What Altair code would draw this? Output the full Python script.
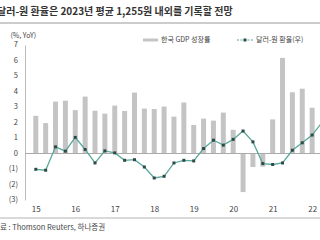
import altair as alt
import pandas as pd

quarters = [f"{y}Q{q}" for y in range(2015, 2023) for q in range(1, 5)][:30]
gdp = [2.43, 1.96, 3.35, 3.41, 2.80, 3.67, 2.76, 2.57, 3.09, 2.74, 3.93, 2.90, 2.87,
       3.03, 2.38, 3.29, 1.84, 2.25, 2.12, 2.64, 1.53, -2.49, -0.87, -0.85, 2.20,
       6.17, 3.95, 4.18, 2.95]
fx = [-1.02, -1.08, 0.43, 0.15, 1.04, 0.26, -0.61, 0.17, 0.04, -0.44, -0.40, -0.87,
      -1.58, -1.47, -0.61, -0.44, -0.48, 0.32, 0.86, 0.54, 0.91, 1.45, 0.75, -0.65,
      -0.71, -0.61, 0.21, 0.69, 1.19, 2.0]
year_labels = ["15", "16", "17", "18", "19", "20", "21", "22"]
y_ticks = [-3, -2, -1, 0, 1, 2, 3, 4, 5, 6, 7]
y_tick_labels = ["(3)", "(2)", "(1)", "0", "1", "2", "3", "4", "5", "6", "7"]

title_text = "달러-원 환율은 2023년 평균 1,255원 내외를 기록할 전망"
source_text = "자료 : Thomson Reuters, 하나증권"
legend_gdp = "한국 GDP 성장률"
legend_fx = "달러-원 환율(우)"

FONT = "Noto Sans CJK KR"

bars_df = pd.DataFrame({"i": range(len(gdp)), "q": quarters[:len(gdp)], "gdp": gdp})
line_df = pd.DataFrame({"i": range(len(fx)), "q": quarters[:len(fx)], "fx": fx})
ytick_df = pd.DataFrame({"v": y_ticks, "lab": y_tick_labels})

xscale = alt.Scale(domain=[-0.587, 28.29], nice=False, zero=False)
yscale = alt.Scale(domain=[-3, 7], nice=False, zero=False)

label_expr = "[" + ",".join(f"'{l}'" for l in year_labels) + "][round(datum.value/4)]"

bars = alt.Chart(bars_df).mark_bar(color="#c4c4c4", size=5, clip=True).encode(
    x=alt.X("i:Q", scale=xscale,
            axis=alt.Axis(values=list(range(0, 29, 4)), labelExpr=label_expr,
                          domain=False, ticks=False, grid=False, labelPadding=5,
                          labelOverlap=False, labelFontSize=8, labelColor="#444", title=None)),
    y=alt.Y("gdp:Q", scale=yscale,
            axis=alt.Axis(values=y_ticks, labels=False,
                          ticks=False, grid=False, domainColor="#bbbbbb",
                          title="(%, YoY)",
                          titleAngle=0, titleX=-15, titleY=-10, titleAlign="left",
                          titleBaseline="middle", titleFontWeight="normal",
                          titleFontSize=7, titleColor="#444")),
)

ylabels = alt.Chart(ytick_df).mark_text(
    align="right", baseline="middle", fontSize=7.5, color="#444", font=FONT
).encode(x=alt.value(-7), y=alt.Y("v:Q", scale=yscale), text="lab:N")

zero = alt.Chart(pd.DataFrame({"z": [0]})).mark_rule(color="#aaaaaa", strokeWidth=1).encode(
    y=alt.Y("z:Q", scale=yscale)
)

line = alt.Chart(line_df).mark_line(color="#5aa89c", strokeWidth=1.3, clip=True).encode(
    x=alt.X("i:Q", scale=xscale), y=alt.Y("fx:Q", scale=yscale)
)
pts = alt.Chart(line_df).mark_point(shape="square", filled=True, size=9, color="#2e4a48",
                                    opacity=1, clip=True).encode(
    x=alt.X("i:Q", scale=xscale), y=alt.Y("fx:Q", scale=yscale)
)

def txt(t, x, y, size, weight="normal", color="#444"):
    return alt.Chart(pd.DataFrame({"t": [t]})).mark_text(
        align="left", baseline="middle", fontSize=size, fontWeight=weight,
        color=color, font=FONT
    ).encode(text="t:N", x=alt.value(x), y=alt.value(y))

title = txt(title_text, -28, -33, 10, "bold", "#333")
source = txt(source_text, -32, 183, 7.5, "normal", "#444")
title_rule = alt.Chart(pd.DataFrame({"a": [0]})).mark_rule(color="#cccccc", strokeWidth=2).encode(
    x=alt.value(-25), x2=alt.value(295), y=alt.value(-22))
bottom_rule = alt.Chart(pd.DataFrame({"a": [0]})).mark_rule(color="#cccccc", strokeWidth=1.5).encode(
    x=alt.value(-25), x2=alt.value(295), y=alt.value(173))

leg_bar = alt.Chart(pd.DataFrame({"a": [0]})).mark_rule(color="#c4c4c4", strokeWidth=3).encode(
    x=alt.value(118), x2=alt.value(133), y=alt.value(-5))
leg_gdp = txt(legend_gdp, 136, -5, 7)
leg_line = alt.Chart(pd.DataFrame({"a": [0]})).mark_rule(color="#5aa89c", strokeWidth=1.2,
                                                         strokeDash=[2, 1.5]).encode(
    x=alt.value(212), x2=alt.value(228), y=alt.value(-5))
leg_pt = alt.Chart(pd.DataFrame({"a": [0]})).mark_point(shape="square", filled=True, size=9,
                                                        color="#2e4a48", opacity=1).encode(
    x=alt.value(220), y=alt.value(-5))
leg_fx = txt(legend_fx, 231, -5, 7)

chart = alt.layer(
    bars, zero, line, pts, ylabels, title, title_rule, bottom_rule, source,
    leg_bar, leg_gdp, leg_line, leg_pt, leg_fx
).properties(
    width=295, height=155,
    autosize=alt.AutoSizeParams(type="none"),
    padding={"left": 25, "top": 45, "right": 0, "bottom": 40},
    background="white",
).configure_view(stroke=None).configure_axis(labelFont=FONT, titleFont=FONT)

chart.save("out.html", embed_options={"renderer": "svg", "actions": False})
